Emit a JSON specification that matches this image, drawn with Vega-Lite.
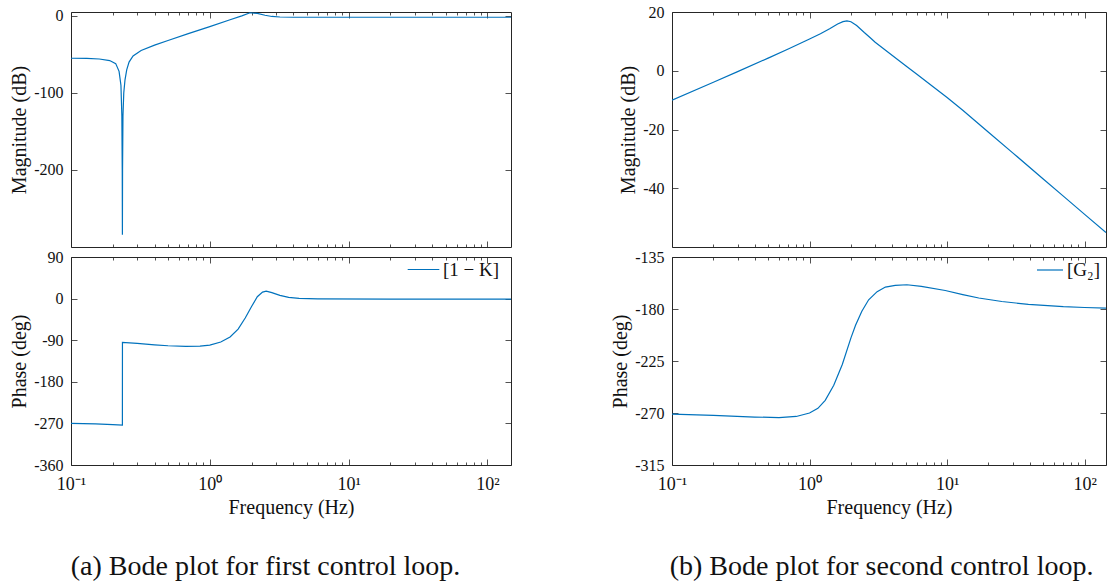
{
  "$schema": "https://vega.github.io/schema/vega-lite/v6.json",
  "background": "white",
  "padding": {"left": 9, "top": 3, "right": 0, "bottom": 0},
  "datasets": {
    "k_mag": [
      {"f": 0.1, "v": -55}, {"f": 0.13, "v": -55.2}, {"f": 0.16, "v": -56}, {"f": 0.19, "v": -58},
      {"f": 0.21, "v": -62}, {"f": 0.222, "v": -72}, {"f": 0.229, "v": -90}, {"f": 0.2325, "v": -130},
      {"f": 0.234, "v": -200}, {"f": 0.2346, "v": -284}, {"f": 0.2352, "v": -200}, {"f": 0.2368, "v": -130},
      {"f": 0.24, "v": -100}, {"f": 0.245, "v": -83}, {"f": 0.252, "v": -70}, {"f": 0.262, "v": -60},
      {"f": 0.28, "v": -52}, {"f": 0.32, "v": -45}, {"f": 0.4, "v": -38}, {"f": 0.5, "v": -32},
      {"f": 0.7, "v": -23}, {"f": 1.0, "v": -14}, {"f": 1.4, "v": -5}, {"f": 1.7, "v": 0},
      {"f": 1.95, "v": 4}, {"f": 2.2, "v": 3.2}, {"f": 2.5, "v": 0.8}, {"f": 2.8, "v": -0.8},
      {"f": 3.2, "v": -1.5}, {"f": 4, "v": -1.8}, {"f": 6, "v": -1.8}, {"f": 20, "v": -1.8}, {"f": 148, "v": -1.8}
    ],
    "k_phase": [
      {"f": 0.1, "v": -270}, {"f": 0.15, "v": -271}, {"f": 0.2, "v": -272.5}, {"f": 0.2346, "v": -273.5},
      {"f": 0.2348, "v": -95}, {"f": 0.3, "v": -97}, {"f": 0.4, "v": -100}, {"f": 0.5, "v": -102},
      {"f": 0.67, "v": -103.5}, {"f": 0.85, "v": -103}, {"f": 1.0, "v": -100.5}, {"f": 1.2, "v": -94},
      {"f": 1.4, "v": -83}, {"f": 1.6, "v": -66}, {"f": 1.8, "v": -42}, {"f": 2.0, "v": -17},
      {"f": 2.2, "v": 4}, {"f": 2.4, "v": 14}, {"f": 2.55, "v": 16}, {"f": 2.8, "v": 13},
      {"f": 3.2, "v": 7}, {"f": 3.7, "v": 2.5}, {"f": 4.4, "v": 0.5}, {"f": 6, "v": -0.5},
      {"f": 20, "v": -1}, {"f": 148, "v": -1}
    ],
    "g_mag": [
      {"f": 0.1, "v": -10}, {"f": 0.2, "v": -3.9}, {"f": 0.3, "v": -0.3}, {"f": 0.5, "v": 4.3},
      {"f": 0.7, "v": 7.4}, {"f": 1.0, "v": 10.8}, {"f": 1.2, "v": 12.6}, {"f": 1.4, "v": 14.3},
      {"f": 1.6, "v": 15.9}, {"f": 1.75, "v": 16.7}, {"f": 1.87, "v": 17}, {"f": 2.0, "v": 16.7},
      {"f": 2.2, "v": 15.4}, {"f": 2.5, "v": 13}, {"f": 2.75, "v": 11.3}, {"f": 3.0, "v": 9.7},
      {"f": 4, "v": 5.2}, {"f": 5, "v": 1.7}, {"f": 6, "v": -1.14}, {"f": 8, "v": -5.64},
      {"f": 10, "v": -9.1}, {"f": 13, "v": -13.43}, {"f": 20, "v": -20.91}, {"f": 30, "v": -27.95},
      {"f": 50, "v": -36.83}, {"f": 70, "v": -42.68}, {"f": 100, "v": -48.88}, {"f": 143, "v": -55.09}
    ],
    "g_phase": [
      {"f": 0.1, "v": -271}, {"f": 0.2, "v": -272}, {"f": 0.4, "v": -273.5}, {"f": 0.6, "v": -274},
      {"f": 0.8, "v": -273}, {"f": 1.0, "v": -270}, {"f": 1.15, "v": -266}, {"f": 1.3, "v": -259},
      {"f": 1.5, "v": -246}, {"f": 1.73, "v": -228}, {"f": 2.0, "v": -205}, {"f": 2.16, "v": -194},
      {"f": 2.4, "v": -182}, {"f": 2.69, "v": -172}, {"f": 3.1, "v": -165}, {"f": 3.56, "v": -161},
      {"f": 4.2, "v": -159.5}, {"f": 5.1, "v": -159}, {"f": 6.5, "v": -160.5}, {"f": 9.7, "v": -164},
      {"f": 13, "v": -167.5}, {"f": 17, "v": -170.5}, {"f": 25, "v": -173.5}, {"f": 39, "v": -176},
      {"f": 70, "v": -178}, {"f": 100, "v": -178.7}, {"f": 143, "v": -179.2}
    ]
  },
  "config": {
    "view": {"stroke": "#262626", "strokeWidth": 1},
    "axis": {
      "labelFont": "Liberation Serif", "labelFontSize": 16, "labelColor": "#111111",
      "titleFont": "Liberation Serif", "titleFontSize": 20, "titleFontWeight": "normal", "titleColor": "#111111",
      "grid": false, "domain": false, "tickColor": "#262626", "tickWidth": 0.8,
      "labelPadding": 8, "labelFlush": false, "labelOverlap": false, "titlePadding": 4
    },
    "legend": {"labelFont": "Liberation Serif", "labelFontSize": 19, "labelColor": "#111111"},
    "title": {"font": "Liberation Serif", "fontWeight": "normal", "color": "#111111"}
  },
  "spacing": 98,
  "resolve": {"scale": {"color": "independent"}, "legend": {"color": "independent"}},
  "hconcat": [
    {
      "title": {"text": "(a) Bode plot for first control loop.", "orient": "bottom", "anchor": "middle", "frame": "bounds", "dx": 5, "offset": 35, "fontSize": 28},
      "spacing": 0,
      "resolve": {"scale": {"color": "independent"}, "legend": {"color": "independent"}},
      "vconcat": [
        {
          "width": 440, "height": 235,
          "data": {"name": "k_mag"},
          "resolve": {"axis": {"x": "independent", "y": "independent"}},
          "layer": [
            {
              "mark": {"type": "line", "color": "#0072BD", "strokeWidth": 1.2, "clip": true},
              "encoding": {
                "x": {"field": "f", "type": "quantitative", "scale": {"type": "log", "domain": [0.1, 148], "nice": false},
                      "axis": {"orient": "bottom", "values": [0.1, 1, 10, 100], "labels": false, "tickSize": -6, "title": null}},
                "y": {"field": "v", "type": "quantitative", "scale": {"domain": [-300, 5], "nice": false},
                      "axis": {"orient": "left", "values": [0, -100, -200], "ticks": false, "labelExpr": "'' + datum.value", "title": "Magnitude (dB)"}}
              }
            },
            {
              "mark": {"type": "line", "strokeOpacity": 0},
              "encoding": {
                "x": {"field": "f", "type": "quantitative", "axis": {"orient": "top", "values": [0.1, 1, 10, 100], "labels": false, "tickSize": -6, "title": null}},
                "y": {"field": "v", "type": "quantitative", "axis": {"orient": "left", "values": [0, -100, -200], "labels": false, "tickSize": -6, "title": null}}
              }
            },
            {
              "mark": {"type": "line", "strokeOpacity": 0},
              "encoding": {
                "x": {"field": "f", "type": "quantitative", "axis": {"orient": "bottom", "values": [0.2,0.3,0.4,0.5,0.6,0.7,0.8,0.9,2,3,4,5,6,7,8,9,20,30,40,50,60,70,80,90], "labels": false, "tickSize": -3, "title": null}},
                "y": {"field": "v", "type": "quantitative", "axis": {"orient": "right", "values": [0, -100, -200], "labels": false, "tickSize": -6, "title": null}}
              }
            },
            {
              "mark": {"type": "line", "strokeOpacity": 0},
              "encoding": {
                "x": {"field": "f", "type": "quantitative", "axis": {"orient": "top", "values": [0.2,0.3,0.4,0.5,0.6,0.7,0.8,0.9,2,3,4,5,6,7,8,9,20,30,40,50,60,70,80,90], "labels": false, "tickSize": -3, "title": null}},
                "y": {"field": "v", "type": "quantitative", "axis": null}
              }
            }
          ]
        },
        {
          "width": 440, "height": 208,
          "data": {"name": "k_phase"},
          "resolve": {"axis": {"x": "independent", "y": "independent"}},
          "layer": [
            {
              "mark": {"type": "line", "strokeWidth": 1.2, "clip": true},
              "encoding": {
                "x": {"field": "f", "type": "quantitative", "scale": {"type": "log", "domain": [0.1, 148], "nice": false},
                      "axis": {"orient": "bottom", "values": [0.1, 1, 10, 100], "ticks": false, "labelPadding": 10, "labelFontSize": 18,
                               "labelExpr": "datum.value < 0.5 ? '10⁻¹' : datum.value < 5 ? '10⁰' : datum.value < 50 ? '10¹' : '10²'", "title": "Frequency (Hz)", "titlePadding": 4}},
                "y": {"field": "v", "type": "quantitative", "scale": {"domain": [-360, 90], "nice": false},
                      "axis": {"orient": "left", "values": [90, 0, -90, -180, -270, -360], "ticks": false, "labelExpr": "'' + datum.value", "title": "Phase (deg)"}},
                "color": {"datum": "[1 − K]", "type": "nominal", "scale": {"range": ["#0072BD"]},
                          "legend": {"orient": "none", "legendX": 334, "legendY": -6, "title": null, "symbolType": "stroke", "symbolSize": 1000, "symbolStrokeWidth": 1.2, "padding": 2, "labelOffset": 3}}
              }
            },
            {
              "mark": {"type": "line", "strokeOpacity": 0},
              "encoding": {
                "x": {"field": "f", "type": "quantitative", "axis": {"orient": "bottom", "values": [0.1, 1, 10, 100], "labels": false, "tickSize": -6, "title": null}},
                "y": {"field": "v", "type": "quantitative", "axis": {"orient": "left", "values": [90, 0, -90, -180, -270, -360], "labels": false, "tickSize": -6, "title": null}}
              }
            },
            {
              "mark": {"type": "line", "strokeOpacity": 0},
              "encoding": {
                "x": {"field": "f", "type": "quantitative", "axis": {"orient": "top", "values": [0.1, 1, 10, 100], "labels": false, "tickSize": -6, "title": null}},
                "y": {"field": "v", "type": "quantitative", "axis": {"orient": "right", "values": [90, 0, -90, -180, -270, -360], "labels": false, "tickSize": -6, "title": null}}
              }
            },
            {
              "mark": {"type": "line", "strokeOpacity": 0},
              "encoding": {
                "x": {"field": "f", "type": "quantitative", "axis": {"orient": "bottom", "values": [0.2,0.3,0.4,0.5,0.6,0.7,0.8,0.9,2,3,4,5,6,7,8,9,20,30,40,50,60,70,80,90], "labels": false, "tickSize": -3, "title": null}},
                "y": {"field": "v", "type": "quantitative", "axis": null}
              }
            },
            {
              "mark": {"type": "line", "strokeOpacity": 0},
              "encoding": {
                "x": {"field": "f", "type": "quantitative", "axis": {"orient": "top", "values": [0.2,0.3,0.4,0.5,0.6,0.7,0.8,0.9,2,3,4,5,6,7,8,9,20,30,40,50,60,70,80,90], "labels": false, "tickSize": -3, "title": null}},
                "y": {"field": "v", "type": "quantitative", "axis": null}
              }
            }
          ]
        }
      ]
    },
    {
      "title": {"text": "(b) Bode plot for second control loop.", "orient": "bottom", "anchor": "middle", "frame": "bounds", "dx": 23, "offset": 35, "fontSize": 28},
      "spacing": 0,
      "resolve": {"scale": {"color": "independent"}, "legend": {"color": "independent"}},
      "vconcat": [
        {
          "width": 434, "height": 235,
          "data": {"name": "g_mag"},
          "resolve": {"axis": {"x": "independent", "y": "independent"}},
          "layer": [
            {
              "mark": {"type": "line", "color": "#0072BD", "strokeWidth": 1.2, "clip": true},
              "encoding": {
                "x": {"field": "f", "type": "quantitative", "scale": {"type": "log", "domain": [0.1, 143], "nice": false},
                      "axis": {"orient": "bottom", "values": [0.1, 1, 10, 100], "labels": false, "tickSize": -6, "title": null}},
                "y": {"field": "v", "type": "quantitative", "scale": {"domain": [-60, 20], "nice": false},
                      "axis": {"orient": "left", "values": [20, 0, -20, -40], "ticks": false, "labelExpr": "'' + datum.value", "title": "Magnitude (dB)"}}
              }
            },
            {
              "mark": {"type": "line", "strokeOpacity": 0},
              "encoding": {
                "x": {"field": "f", "type": "quantitative", "axis": {"orient": "top", "values": [0.1, 1, 10, 100], "labels": false, "tickSize": -6, "title": null}},
                "y": {"field": "v", "type": "quantitative", "axis": {"orient": "left", "values": [20, 0, -20, -40], "labels": false, "tickSize": -6, "title": null}}
              }
            },
            {
              "mark": {"type": "line", "strokeOpacity": 0},
              "encoding": {
                "x": {"field": "f", "type": "quantitative", "axis": {"orient": "bottom", "values": [0.2,0.3,0.4,0.5,0.6,0.7,0.8,0.9,2,3,4,5,6,7,8,9,20,30,40,50,60,70,80,90], "labels": false, "tickSize": -3, "title": null}},
                "y": {"field": "v", "type": "quantitative", "axis": {"orient": "right", "values": [20, 0, -20, -40], "labels": false, "tickSize": -6, "title": null}}
              }
            },
            {
              "mark": {"type": "line", "strokeOpacity": 0},
              "encoding": {
                "x": {"field": "f", "type": "quantitative", "axis": {"orient": "top", "values": [0.2,0.3,0.4,0.5,0.6,0.7,0.8,0.9,2,3,4,5,6,7,8,9,20,30,40,50,60,70,80,90], "labels": false, "tickSize": -3, "title": null}},
                "y": {"field": "v", "type": "quantitative", "axis": null}
              }
            }
          ]
        },
        {
          "width": 434, "height": 208,
          "data": {"name": "g_phase"},
          "resolve": {"axis": {"x": "independent", "y": "independent"}},
          "layer": [
            {
              "mark": {"type": "line", "strokeWidth": 1.2, "clip": true},
              "encoding": {
                "x": {"field": "f", "type": "quantitative", "scale": {"type": "log", "domain": [0.1, 143], "nice": false},
                      "axis": {"orient": "bottom", "values": [0.1, 1, 10, 100], "ticks": false, "labelPadding": 10, "labelFontSize": 18,
                               "labelExpr": "datum.value < 0.5 ? '10⁻¹' : datum.value < 5 ? '10⁰' : datum.value < 50 ? '10¹' : '10²'", "title": "Frequency (Hz)", "titlePadding": 4}},
                "y": {"field": "v", "type": "quantitative", "scale": {"domain": [-315, -135], "nice": false},
                      "axis": {"orient": "left", "values": [-135, -180, -225, -270, -315], "ticks": false, "labelExpr": "'' + datum.value", "title": "Phase (deg)"}},
                "color": {"datum": "[G₂]", "type": "nominal", "scale": {"range": ["#0072BD"]},
                          "legend": {"orient": "none", "legendX": 362, "legendY": -3, "title": null, "symbolType": "stroke", "symbolSize": 676, "symbolStrokeWidth": 1.2, "padding": 2, "labelOffset": 3}}
              }
            },
            {
              "mark": {"type": "line", "strokeOpacity": 0},
              "encoding": {
                "x": {"field": "f", "type": "quantitative", "axis": {"orient": "bottom", "values": [0.1, 1, 10, 100], "labels": false, "tickSize": -6, "title": null}},
                "y": {"field": "v", "type": "quantitative", "axis": {"orient": "left", "values": [-135, -180, -225, -270, -315], "labels": false, "tickSize": -6, "title": null}}
              }
            },
            {
              "mark": {"type": "line", "strokeOpacity": 0},
              "encoding": {
                "x": {"field": "f", "type": "quantitative", "axis": {"orient": "top", "values": [0.1, 1, 10, 100], "labels": false, "tickSize": -6, "title": null}},
                "y": {"field": "v", "type": "quantitative", "axis": {"orient": "right", "values": [-135, -180, -225, -270, -315], "labels": false, "tickSize": -6, "title": null}}
              }
            },
            {
              "mark": {"type": "line", "strokeOpacity": 0},
              "encoding": {
                "x": {"field": "f", "type": "quantitative", "axis": {"orient": "bottom", "values": [0.2,0.3,0.4,0.5,0.6,0.7,0.8,0.9,2,3,4,5,6,7,8,9,20,30,40,50,60,70,80,90], "labels": false, "tickSize": -3, "title": null}},
                "y": {"field": "v", "type": "quantitative", "axis": null}
              }
            },
            {
              "mark": {"type": "line", "strokeOpacity": 0},
              "encoding": {
                "x": {"field": "f", "type": "quantitative", "axis": {"orient": "top", "values": [0.2,0.3,0.4,0.5,0.6,0.7,0.8,0.9,2,3,4,5,6,7,8,9,20,30,40,50,60,70,80,90], "labels": false, "tickSize": -3, "title": null}},
                "y": {"field": "v", "type": "quantitative", "axis": null}
              }
            }
          ]
        }
      ]
    }
  ]
}
